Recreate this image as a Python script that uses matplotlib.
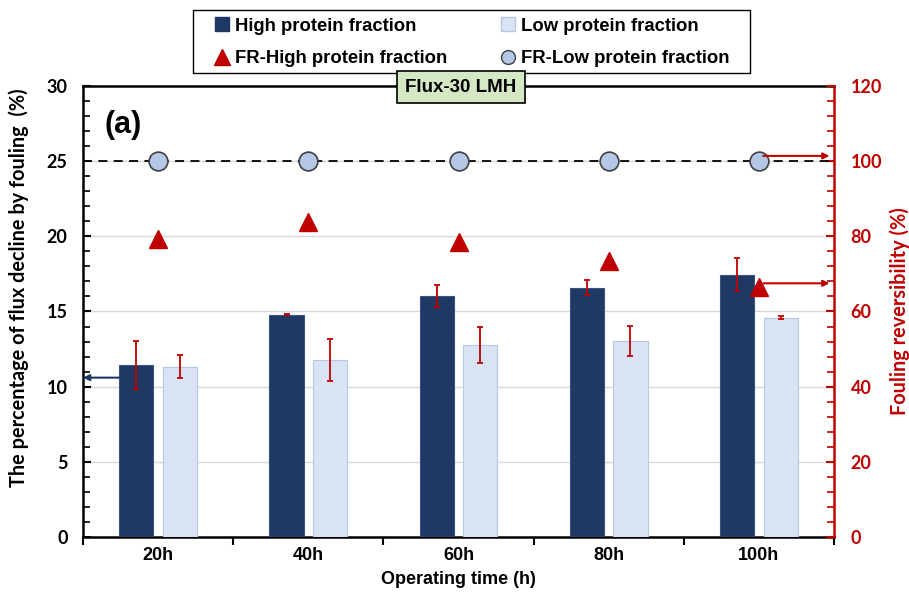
import matplotlib
matplotlib.use("Agg")
import matplotlib.pyplot as plt
from matplotlib.lines import Line2D
from matplotlib.patches import Rectangle
from matplotlib.ticker import MultipleLocator, FixedLocator
import numpy as np

plt.rcParams['font.family'] = ['Liberation Sans', 'DejaVu Sans']
plt.rcParams['font.weight'] = 'bold'
CAL = ['Lato', 'DejaVu Sans']   # stand-in for the Calibri-looking axis text

# --- data ---
times = ["20h", "40h", "60h", "80h", "100h"]
high_decline = [11.45, 14.8, 16.03, 16.57, 17.45]
high_err = [1.6, 0.05, 0.73, 0.5, 1.1]
low_decline = [11.33, 11.78, 12.77, 13.04, 14.6]
low_err = [0.75, 1.4, 1.19, 1.0, 0.1]
fr_high = [79.4, 83.8, 78.4, 73.4, 66.5]
fr_low = [100.0, 100.0, 100.0, 100.0, 100.0]

# annotation arrows (left axis value, right axis values)
arrow_left_y = 10.6
arrow_right_low = 101.4
arrow_right_high = 67.5

NAVY = '#1f3864'
PALE = '#dae3f3'
PALE_EDGE = '#b4c7e7'
RED = '#c00000'
CIRCLE = '#b4c7e7'

fig = plt.figure(figsize=(9.09, 5.98), dpi=100)
ax = fig.add_axes([83/909, 61/598, 751/909, 451/598])
ax2 = ax.twinx()

x = np.arange(len(times))
bw = 0.227
off = 0.145

err_kw = dict(ecolor=RED, elinewidth=1.3, capsize=2.5, capthick=1.3)
ax.bar(x - off, high_decline, bw, yerr=high_err, color=NAVY,
       edgecolor='#3a5281', linewidth=0.8, error_kw=err_kw, zorder=3)
ax.bar(x + off, low_decline, bw, yerr=low_err, color=PALE,
       edgecolor=PALE_EDGE, linewidth=0.8, error_kw=err_kw, zorder=3)

ax.set_xlim(-0.5, len(times) - 0.5)
ax.set_ylim(0, 30)
ax.yaxis.set_major_locator(MultipleLocator(5))
ax.yaxis.set_minor_locator(MultipleLocator(1))
ax.yaxis.grid(True, which='major', color='#d9d9d9', lw=1.0)
ax.set_axisbelow(True)

# category boundaries as ticks, labels at centres
ax.xaxis.set_major_locator(FixedLocator(np.arange(-0.5, len(times), 1.0)))
ax.xaxis.set_minor_locator(FixedLocator(x))
ax.set_xticklabels([], minor=False)
ax.set_xticklabels(times, minor=True)
ax.tick_params(axis='x', which='major', direction='out', length=6, width=1.5)
ax.tick_params(axis='x', which='minor', length=0, pad=7, labelsize=13)
ax.tick_params(axis='y', which='major', direction='in', length=6, width=1.5,
               labelsize=13, pad=11)
ax.tick_params(axis='y', which='minor', direction='in', length=5, width=1.2)
for t in ax.get_yticklabels():
    t.set_family(CAL)

for s in ['left', 'bottom', 'top']:
    ax.spines[s].set_linewidth(1.8)
    ax.spines[s].set_color('black')
ax.spines['right'].set_visible(False)

ax.set_xlabel("Operating time (h)", fontsize=13, fontweight='bold', labelpad=5)
ax.set_ylabel("The percentage of flux decline by fouling  (%)", fontsize=14.3,
              fontweight='bold', family=CAL)
ax.yaxis.set_label_coords(-0.072, 0.552)

# right axis: fouling reversibility
ax2.set_ylim(0, 120)
ax2.yaxis.set_major_locator(MultipleLocator(20))
ax2.yaxis.set_minor_locator(MultipleLocator(4))
ax2.tick_params(axis='y', which='major', direction='in', length=6, width=1.5,
                colors=RED, labelsize=13, pad=12)
ax2.tick_params(axis='y', which='minor', direction='in', length=5, width=1.2,
                colors=RED)
for t in ax2.get_yticklabels():
    t.set_family(CAL)
for s in ['left', 'bottom', 'top']:
    ax2.spines[s].set_visible(False)
ax2.spines['right'].set_color(RED)
ax2.spines['right'].set_linewidth(1.8)
ax2.set_ylabel("Fouling reversibility (%)", color=RED, fontsize=14.3,
               fontweight='bold', family=CAL)
ax2.yaxis.set_label_coords(1.0733, 0.5)

ax2.axhline(100, xmin=0.0, xmax=0.995, color='black', ls=(0, (5, 3.5)), lw=1.3,
            zorder=2)
ax2.plot(x, fr_high, ls='none', marker='^', ms=13.5, color=RED, zorder=4)
ax2.plot(x, fr_low, ls='none', marker='o', ms=13.5, markerfacecolor=CIRCLE,
         markeredgecolor='#404040', markeredgewidth=1.2, zorder=4)

# arrows pointing to the relevant axis
arrow_kw = dict(arrowstyle='-|>', lw=1.5, shrinkA=0, shrinkB=0, mutation_scale=9)
ax.annotate('', xy=(-0.5, arrow_left_y), xytext=(x[0] - off - bw / 2, arrow_left_y),
            arrowprops=dict(color=NAVY, **arrow_kw), zorder=5)
ax2.annotate('', xy=(4.47, arrow_right_low), xytext=(x[-1] + 0.03, arrow_right_low),
             arrowprops=dict(color=RED, **arrow_kw), zorder=5)
ax2.annotate('', xy=(4.47, arrow_right_high), xytext=(x[-1] + 0.03, arrow_right_high),
             arrowprops=dict(color=RED, **arrow_kw), zorder=5)

ax.text(0.028, 0.913, "(a)", transform=ax.transAxes, fontsize=22,
        fontweight='bold', ha='left', va='center')

# title box sitting on the top spine
fig.text(461/909, 1 - 87/598, "Flux-30 LMH", ha='center', va='center',
         fontsize=13.5, fontweight='bold',
         bbox=dict(boxstyle='square,pad=0.42', fc='#d5e8c4', ec='black', lw=1.2))

# legend: frame drawn separately so it can be wider than the entries
fig.patches.append(Rectangle((193/909, 1 - 73/598), 557/909, 63/598,
                             transform=fig.transFigure, fill=False,
                             ec='black', lw=1.0))
handles = [
    Line2D([], [], ls='none', marker='s', ms=10, color=NAVY),
    Line2D([], [], ls='none', marker='^', ms=11, color=RED),
    Line2D([], [], ls='none', marker='s', ms=10, color=PALE, markeredgecolor=PALE_EDGE),
    Line2D([], [], ls='none', marker='o', ms=10, markerfacecolor=CIRCLE,
           markeredgecolor='#404040'),
]
labels = ["High protein fraction", "FR-High protein fraction",
          "Low protein fraction", "FR-Low protein fraction"]
leg = fig.legend(handles, labels, ncol=2, loc='center',
                 bbox_to_anchor=(472/909, 1 - 42.5/598),
                 prop=dict(size=13.3, weight='bold'), frameon=False,
                 handlelength=0.8, handletextpad=0.3, columnspacing=2.93,
                 labelspacing=0.85, borderpad=0.0, borderaxespad=0)

fig.savefig("out.png", dpi=100)
